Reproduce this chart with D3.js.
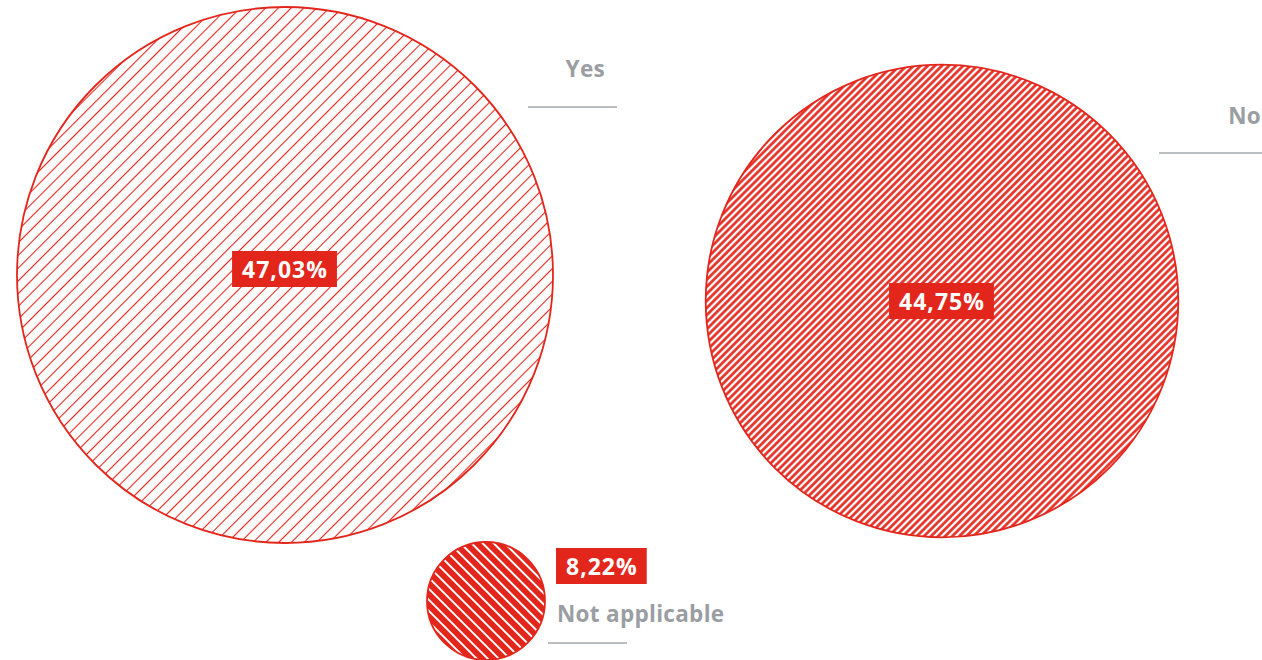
<!DOCTYPE html>
<html>
<head>
<meta charset="utf-8">
<script src="https://cdn.jsdelivr.net/npm/d3@7"></script>
<style>
  html, body { margin: 0; padding: 0; background: #fff; }
  svg { display: block; }
</style>
</head>
<body>
<svg id="chart" width="1262" height="660"></svg>
<script>
// Survey answers and their shares (%)
const categories = ["Yes", "No", "Not applicable"];
const shares = [47.03, 44.75, 8.22];

const RED = "#e3261c";
const GREY = "#9a9ea3";

const svg = d3.select("#chart");
const defs = svg.append("defs");

// Hatch fills, one per answer
const hatches = [
  { id: "hatch-yes", bg: "#fff", stroke: RED, gap: 9, width: 1.1, angle: 45 },
  { id: "hatch-no", bg: "#fff", stroke: RED, gap: 5, width: 2.6, angle: 45 },
  { id: "hatch-na", bg: RED, stroke: "#fff", gap: 7.8, width: 2, angle: -45 }
];
hatches.forEach(h => {
  const p = defs.append("pattern")
    .attr("id", h.id)
    .attr("patternUnits", "userSpaceOnUse")
    .attr("width", h.gap).attr("height", h.gap)
    .attr("patternTransform", `rotate(${h.angle})`);
  p.append("rect").attr("width", h.gap).attr("height", h.gap).attr("fill", h.bg);
  p.append("line")
    .attr("x1", h.gap / 2).attr("x2", h.gap / 2)
    .attr("y1", 0).attr("y2", h.gap)
    .attr("stroke", h.stroke).attr("stroke-width", h.width);
});

// Bubble radius from share
const r = d3.scalePow().exponent(3.3)
  .domain(d3.extent(shares))
  .range([59, 268]);

// Placement of each bubble and its caption
const layout = [
  { cx: 285, cy: 275, labelY: -6, name: { x: 605, y: 77, anchor: "end" }, rule: [528, 617, 107] },
  { cx: 942, cy: 301, labelY: 0, name: { x: 1261, y: 124, anchor: "end" }, rule: [1159, 1262, 153] },
  { cx: 486, cy: 601, labelY: 0, name: { x: 557, y: 622, anchor: "start" }, rule: [548, 627, 643],
    box: { x: 557, y: 566 } }
];

const fmt = d3.formatLocale({ decimal: ",", thousands: ".", grouping: [3], currency: ["", "€"] });
const pct = v => fmt.format(".2f")(v) + "%";

const data = categories.map((c, i) => ({ name: c, value: shares[i], pos: layout[i], hatch: hatches[i].id }));

const g = svg.selectAll("g.bubble").data(data).join("g").attr("class", "bubble");

g.append("circle")
  .attr("cx", d => d.pos.cx)
  .attr("cy", d => d.pos.cy)
  .attr("r", d => r(d.value))
  .attr("fill", d => `url(#${d.hatch})`)
  .attr("stroke", RED)
  .attr("stroke-width", 1.8);

// Value tags
g.each(function(d) {
  const sel = d3.select(this);
  const cx = d.pos.box ? d.pos.box.x : d.pos.cx;
  const cy = d.pos.box ? d.pos.box.y : d.pos.cy + d.pos.labelY;
  const t = sel.append("text")
    .attr("font-family", "'Open Sans', sans-serif")
    .attr("font-weight", 700)
    .attr("font-size", 23)
    .attr("letter-spacing", 1)
    .attr("fill", "#fff")
    .attr("dominant-baseline", "central")
    .attr("text-anchor", d.pos.box ? "start" : "middle")
    .attr("x", d.pos.box ? cx + 9 : cx)
    .attr("y", cy)
    .text(pct(d.value));
  const bb = t.node().getBBox();
  const padX = 10, h = 36;
  sel.insert("rect", "text")
    .attr("x", bb.x - padX)
    .attr("y", cy - h / 2)
    .attr("width", bb.width + padX * 2 - 1)
    .attr("height", h)
    .attr("fill", RED);
});

// Category captions with rule
g.append("text")
  .attr("x", d => d.pos.name.x)
  .attr("y", d => d.pos.name.y)
  .attr("text-anchor", d => d.pos.name.anchor)
  .attr("font-family", "'Open Sans', sans-serif")
  .attr("font-weight", 700)
  .attr("font-size", 22.5)
  .attr("letter-spacing", 0.3)
  .attr("fill", GREY)
  .text(d => d.name);

g.append("line")
  .attr("x1", d => d.pos.rule[0])
  .attr("x2", d => d.pos.rule[1])
  .attr("y1", d => d.pos.rule[2])
  .attr("y2", d => d.pos.rule[2])
  .attr("stroke", "#a4a8ac")
  .attr("stroke-width", 1.5);
</script>
</body>
</html>
